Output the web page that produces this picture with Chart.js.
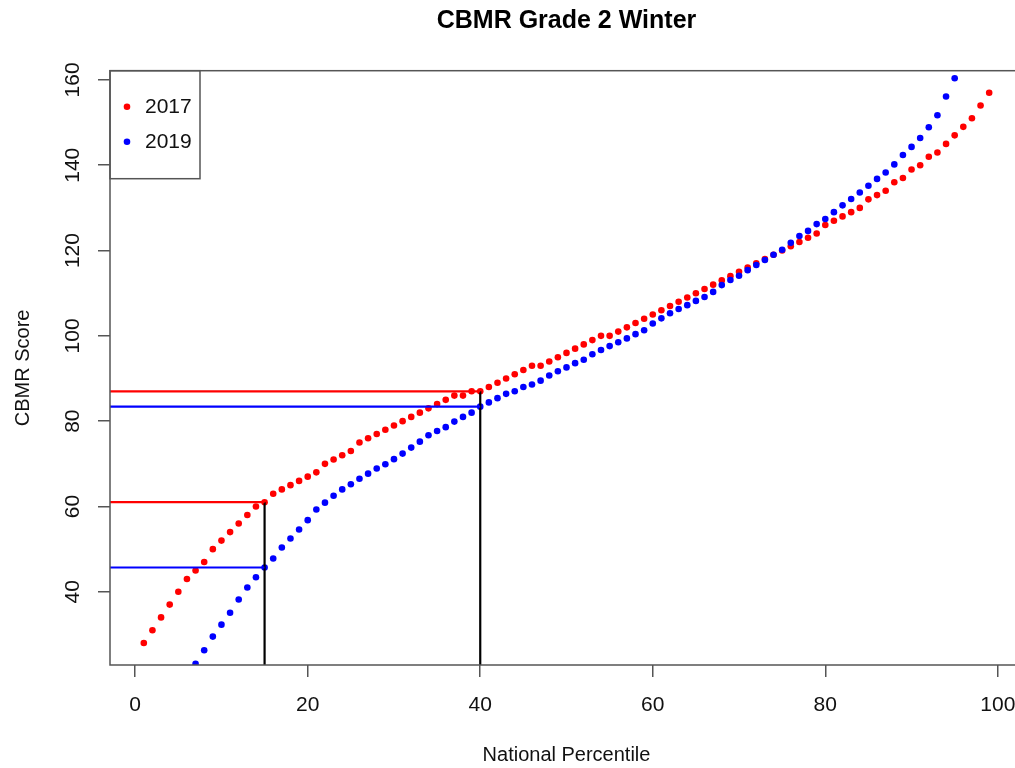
<!DOCTYPE html>
<html>
<head>
<meta charset="utf-8">
<title>CBMR Grade 2 Winter</title>
<script src="https://cdn.jsdelivr.net/npm/chart.js@4.4.1/dist/chart.umd.min.js"></script>
<style>
html, body { margin:0; padding:0; background:#fff; overflow:hidden; }
#graphCbmr { display:block; }
</style>
</head>
<body>
<canvas id="graphCbmr" width="1040" height="768"></canvas>
<script>
let percentile2017 = [1,2,3,4,5,6,7,8,9,10,11,12,13,14,15,16,17,18,19,20,21,22,23,24,25,26,27,28,29,30,31,32,33,34,35,36,37,38,39,40,41,42,43,44,45,46,47,48,49,50,51,52,53,54,55,56,57,58,59,60,61,62,63,64,65,66,67,68,69,70,71,72,73,74,75,76,77,78,79,80,81,82,83,84,85,86,87,88,89,90,91,92,93,94,95,96,97,98,99];
let score2017 = [28,31,34,37,40,43,45,47,50,52,54,56,58,60,61,63,64,65,66,67,68,70,71,72,73,75,76,77,78,79,80,81,82,83,84,85,86,86,87,87,88,89,90,91,92,93,93,94,95,96,97,98,99,100,100,101,102,103,104,105,106,107,108,109,110,111,112,113,114,115,116,117,118,119,120,121,122,123,124,126,127,128,129,130,132,133,134,136,137,139,140,142,143,145,147,149,151,154,157];

// 2019 only shows from the 7th to the 95th percentile, the rest falls outside the plot
let percentile2019 = [7,8,9,10,11,12,13,14,15,16,17,18,19,20,21,22,23,24,25,26,27,28,29,30,31,32,33,34,35,36,37,38,39,40,41,42,43,44,45,46,47,48,49,50,51,52,53,54,55,56,57,58,59,60,61,62,63,64,65,66,67,68,69,70,71,72,73,74,75,76,77,78,79,80,81,82,83,84,85,86,87,88,89,90,91,92,93,94,95];
let score2019 = [23.1,26.3,29.5,32.3,35.1,38.2,41.0,43.4,45.7,47.8,50.4,52.5,54.6,56.8,59.3,60.9,62.5,64.0,65.2,66.5,67.7,68.9,69.9,71.1,72.4,73.8,75.2,76.7,77.7,78.6,79.9,81.0,82.0,83.4,84.4,85.4,86.4,87.0,88.0,88.6,89.5,90.7,91.7,92.6,93.6,94.4,95.7,96.7,97.6,98.5,99.4,100.4,101.3,102.9,104.1,105.3,106.3,107.2,108.2,109.1,110.3,111.9,113.1,114.1,115.4,116.6,117.8,119.0,120.2,121.8,123.4,124.6,126.2,127.4,129.0,130.6,132.1,133.6,135.2,136.8,138.3,140.2,142.4,144.3,146.4,148.9,151.7,156.1,160.4];

let cutPercentiles = [15, 40];
let cutScore2017 = [61, 87];
let cutScore2019 = [45.7, 83.4];

let xTicks = [0, 20, 40, 60, 80, 100];
let yTicks = [40, 60, 80, 100, 120, 140, 160];
let xMin = -2.92, xMax = 102.92;
let yMin = 22.84, yMax = 162.16;

let seriesLabels = ["2017", "2019"];
let seriesColors = ["rgb(255,0,0)", "rgb(0,0,255)"];

const fontFamily = "'Liberation Sans', Arial, sans-serif";

function toPoints(xs, ys){
    let pts = new Array();
    xs.forEach((x, i) => pts.push({x: x, y: ys[i]}));
    return pts;
}

function cutLines(){
    let sets = new Array();
    cutPercentiles.forEach((p, i) => {
        sets.push({type:"line", data:[{x:xMin, y:cutScore2017[i]}, {x:p, y:cutScore2017[i]}], borderColor:seriesColors[0]});
        sets.push({type:"line", data:[{x:xMin, y:cutScore2019[i]}, {x:p, y:cutScore2019[i]}], borderColor:seriesColors[1]});
        sets.push({type:"line", data:[{x:p, y:yMin}, {x:p, y:cutScore2017[i]}], borderColor:"black"});
    });
    sets.forEach(s => {
        s.borderWidth = 2.2;
        s.pointRadius = 0;
        s.fill = false;
        s.order = 1;
        s.clip = 0;
    });
    return sets;
}

// box round the plot and the small legend in its top left corner
const plotBox = {
    id: "plotBox",
    afterDatasetsDraw(chart){
        let ctx = chart.ctx;
        let a = chart.chartArea;
        ctx.save();
        ctx.strokeStyle = "#555";
        ctx.lineWidth = 1.5;
        ctx.strokeRect(a.left, a.top, a.right - a.left, a.bottom - a.top);
        ctx.strokeRect(a.left, a.top, 90, 108);
        ctx.font = "21px " + fontFamily;
        ctx.textAlign = "left";
        ctx.textBaseline = "middle";
        seriesLabels.forEach((label, i) => {
            let y = a.top + 36 + i * 35;
            ctx.fillStyle = seriesColors[i];
            ctx.beginPath();
            ctx.arc(a.left + 17, y, 3.3, 0, Math.PI * 2);
            ctx.fill();
            ctx.fillStyle = "#111";
            ctx.fillText(label, a.left + 35, y + 1);
        });
        ctx.restore();
    }
};

let myCanvas = document.getElementById("graphCbmr").getContext("2d");
let graph = new Chart(myCanvas, {
    type:"scatter",
    data:{
        datasets: cutLines().concat([
            {
                label:seriesLabels[1],
                data:toPoints(percentile2019, score2019),
                backgroundColor:seriesColors[1],
                pointRadius:3.3,
                pointBorderWidth:0,
                order:2,
                clip:0
            },
            {
                label:seriesLabels[0],
                data:toPoints(percentile2017, score2017),
                backgroundColor:seriesColors[0],
                pointRadius:3.3,
                pointBorderWidth:0,
                order:3,
                clip:0
            }
        ])
    },
    options:{
        responsive:false,
        animation:false,
        events:[],
        layout:{ padding:{left:0, top:0, right:17, bottom:0} },
        plugins:{
            legend:{ display:false },
            tooltip:{ enabled:false }
        },
        scales:{
            // empty top axis, only used so the title is centred over the plot
            top:{
                type:"linear",
                position:"top",
                min:xMin,
                max:xMax,
                afterFit: scale => { scale.height = 70.7; },
                grid:{ display:false },
                border:{ display:false },
                ticks:{ display:false },
                title:{ display:true, text:"CBMR Grade 2 Winter", color:"#000", font:{ family:fontFamily, size:25, weight:"bold" }, padding:{ top:6, bottom:0 } }
            },
            x:{
                type:"linear",
                min:xMin,
                max:xMax,
                afterBuildTicks: scale => { scale.ticks = xTicks.map(v => ({value:v})); },
                afterFit: scale => { scale.height = 103; },
                grid:{ display:true, drawOnChartArea:false, drawTicks:true, tickLength:12, color:"#555", lineWidth:1.5 },
                border:{ display:false },
                ticks:{ color:"#111", padding:16, maxRotation:0, font:{ family:fontFamily, size:21 } },
                title:{ display:true, text:"National Percentile", color:"#111", font:{ family:fontFamily, size:20 }, padding:{ top:0, bottom:1 } }
            },
            y:{
                type:"linear",
                min:yMin,
                max:yMax,
                afterBuildTicks: scale => { scale.ticks = yTicks.map(v => ({value:v})); },
                afterFit: scale => { scale.width = 110; },
                grid:{ display:true, drawOnChartArea:false, drawTicks:true, tickLength:12, color:"#555", lineWidth:1.5 },
                border:{ display:false },
                ticks:{ color:"#111", padding:7, minRotation:90, maxRotation:90, crossAlign:"center", font:{ family:fontFamily, size:21 } },
                title:{ display:true, text:"CBMR Score", color:"#111", font:{ family:fontFamily, size:20 }, padding:{ top:11, bottom:0 } }
            }
        }
    },
    plugins:[plotBox]
});
</script>
</body>
</html>
